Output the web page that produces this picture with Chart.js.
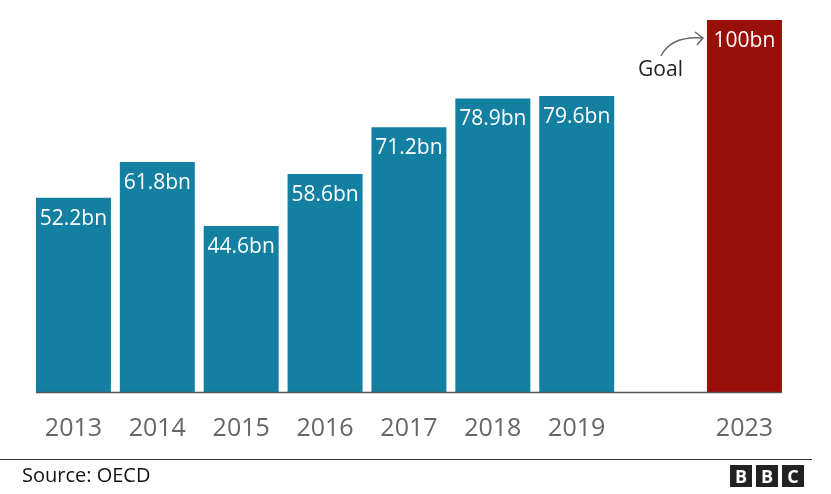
<!DOCTYPE html>
<html>
<head>
<meta charset="utf-8">
<script src="https://cdn.jsdelivr.net/npm/chart.js@4"></script>
<style>
  body { margin: 0; background: #fff; }
  canvas { display: block; }
</style>
</head>
<body>
<canvas id="aidChart" width="831" height="494"></canvas>
<script>
// climate finance, bn dollars
const years = ["2013", "2014", "2015", "2016", "2017", "2018", "2019", "", "2023"]
const values = [52.2, 61.8, 44.6, 58.6, 71.2, 78.9, 79.6, null, 100]
const valueLabels = ["52.2bn", "61.8bn", "44.6bn", "58.6bn", "71.2bn", "78.9bn", "79.6bn", "", "100bn"]
const barColors = ["#1380a1", "#1380a1", "#1380a1", "#1380a1", "#1380a1", "#1380a1", "#1380a1", "#1380a1", "#990f0a"]

const font = "'Open Sans', 'Noto Sans', sans-serif"

const extras = {
    id: "extras",
    afterDatasetsDraw(chart) {
        const ctx = chart.ctx
        const bars = chart.getDatasetMeta(0).data
        const area = chart.chartArea

        // value labels inside the bars
        ctx.save()
        ctx.fillStyle = "#fff"
        ctx.font = "21px " + font
        ctx.textAlign = "center"
        ctx.textBaseline = "alphabetic"
        bars.forEach((bar, i) => {
            if (values[i] == null) return
            ctx.fillText(valueLabels[i], bar.x, bar.y + 27)
        })

        // baseline
        const first = bars[0]
        const last = bars[bars.length - 1]
        ctx.strokeStyle = "#555"
        ctx.lineWidth = 1.5
        ctx.beginPath()
        ctx.moveTo(first.x - first.width / 2, area.bottom + 0.5)
        ctx.lineTo(last.x + last.width / 2, area.bottom + 0.5)
        ctx.stroke()

        // goal note + arrow
        const left = last.x - last.width / 2
        ctx.fillStyle = "#222"
        ctx.font = "21px " + font
        ctx.textAlign = "right"
        ctx.fillText("Goal", left - 24, last.y + 56)

        ctx.strokeStyle = "#666"
        ctx.lineWidth = 1.5
        ctx.beginPath()
        ctx.moveTo(left - 46, last.y + 36)
        ctx.quadraticCurveTo(left - 36, last.y + 16, left - 5, last.y + 18)
        ctx.stroke()
        ctx.beginPath()
        ctx.moveTo(left - 12, last.y + 12)
        ctx.lineTo(left - 4, last.y + 18)
        ctx.lineTo(left - 10, last.y + 25)
        ctx.stroke()

        // footer
        ctx.strokeStyle = "#333"
        ctx.lineWidth = 1
        ctx.beginPath()
        ctx.moveTo(0, 459.5)
        ctx.lineTo(812, 459.5)
        ctx.stroke()

        ctx.fillStyle = "#111"
        ctx.font = "20px " + font
        ctx.textAlign = "left"
        ctx.fillText("Source: OECD", 22, 482)

        ctx.font = "bold 18px " + font
        ctx.textAlign = "center";
        ["B", "B", "C"].forEach((ch, i) => {
            const bx = 730 + i * 26
            ctx.fillStyle = "#222"
            ctx.fillRect(bx, 465, 22, 22)
            ctx.fillStyle = "#fff"
            ctx.fillText(ch, bx + 11, 483)
        })
        ctx.restore()
    }
}

new Chart(document.getElementById("aidChart"), {
    type: "bar",
    data: {
        labels: years,
        datasets: [{
            data: values,
            backgroundColor: barColors,
            categoryPercentage: 1,
            barPercentage: 0.894
        }]
    },
    options: {
        responsive: false,
        animation: false,
        layout: { padding: { left: 31.5, right: 44.6, top: 20, bottom: 0 } },
        plugins: {
            legend: { display: false },
            tooltip: { enabled: false }
        },
        scales: {
            x: {
                grid: { display: false, drawTicks: false },
                border: { display: false },
                ticks: {
                    color: "#666",
                    padding: 22,
                    font: { family: font, size: 25 }
                },
                afterFit: scale => { scale.height = 102 }
            },
            y: {
                display: false,
                min: 0,
                max: 100
            }
        }
    },
    plugins: [extras]
})
</script>
</body>
</html>
